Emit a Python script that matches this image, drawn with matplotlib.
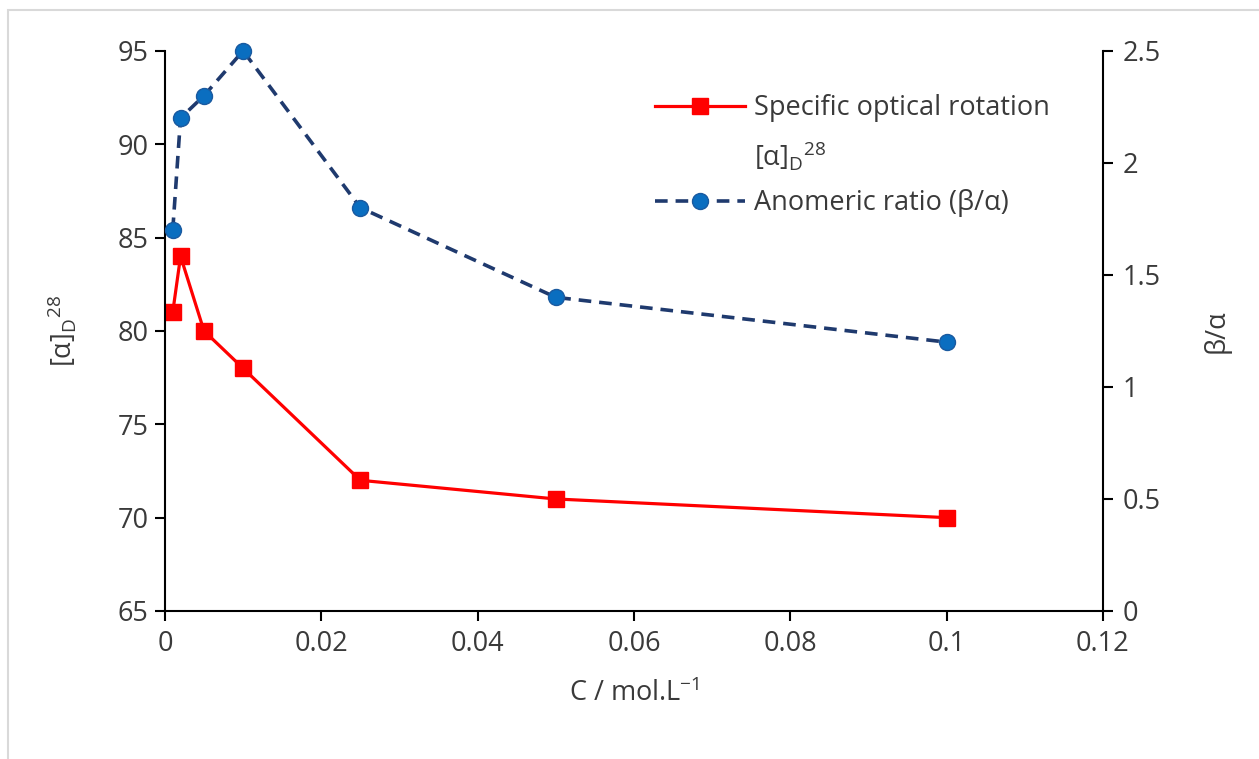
import matplotlib
matplotlib.use("Agg")
import matplotlib.pyplot as plt
from matplotlib.patches import Rectangle
from matplotlib.lines import Line2D

plt.rcParams['font.family'] = ['Open Sans', 'DejaVu Sans']
plt.rcParams['mathtext.fontset'] = 'custom'
plt.rcParams['mathtext.rm'] = 'Open Sans'
plt.rcParams['mathtext.it'] = 'Open Sans'

conc = [0.001, 0.002, 0.005, 0.01, 0.025, 0.05, 0.1]
rotation = [81, 84, 80, 78, 72, 71, 70]
ratio = [1.7, 2.2, 2.3, 2.5, 1.8, 1.4, 1.2]
x_ticks = [0, 0.02, 0.04, 0.06, 0.08, 0.1, 0.12]
x_ticklabels = ["0", "0.02", "0.04", "0.06", "0.08", "0.1", "0.12"]
left_ticks = [65, 70, 75, 80, 85, 90, 95]
right_ticks = [0, 0.5, 1, 1.5, 2, 2.5]
right_ticklabels = ["0", "0.5", "1", "1.5", "2", "2.5"]

FS = 19.5

fig = plt.figure(figsize=(12.59, 7.59), dpi=100)
ax = fig.add_axes([0.131, 0.195, 0.745, 0.738])
ax2 = ax.twinx()

fig.patches.append(Rectangle((0.006, -0.01), 1.0, 0.997, transform=fig.transFigure,
                             fill=False, edgecolor='#d9d9d9', linewidth=1.5))

l1, = ax.plot(conc, rotation, color='#ff0000', lw=2.3, marker='s', markersize=12,
              markerfacecolor='#ff0000', markeredgecolor='#ff0000', clip_on=False,
              label='Specific optical rotation')
l2, = ax2.plot(conc, ratio, color='#1f3a6e', lw=2.6, linestyle=(0, (3.5, 2.2)),
               marker='o', markersize=11.5, markerfacecolor='#0a6ec0',
               markeredgecolor='#1a5aa0', markeredgewidth=1, clip_on=False,
               label='Anomeric ratio (β/α)')
cont = Line2D([], [], color='none', label='$[\\alpha]_{\\mathrm{D}}{}^{28}$')

ax.set_xlim(0, 0.12)
ax.set_ylim(65, 95)
ax2.set_ylim(0, 2.5)
ax.set_xticks(x_ticks)
ax.set_xticklabels(x_ticklabels)
ax.set_yticks(left_ticks)
ax2.set_yticks(right_ticks)
ax2.set_yticklabels(right_ticklabels)

for a in (ax, ax2):
    for s in a.spines.values():
        s.set_visible(False)
ax.spines['left'].set_visible(True)
ax.spines['bottom'].set_visible(True)
ax2.spines['right'].set_visible(True)
for s in (ax.spines['left'], ax.spines['bottom'], ax2.spines['right']):
    s.set_linewidth(1.5)
    s.set_color('black')

ax.tick_params(axis='both', direction='out', length=7, width=1.5, labelsize=FS,
               colors='black', labelcolor='#3a3a3a', pad=5)
ax.tick_params(axis='x', pad=7)
ax2.tick_params(axis='y', direction='out', length=7, width=1.5, labelsize=FS,
                colors='black', labelcolor='#3a3a3a', pad=7)

ax.set_xlabel('C / mol.L$^{-1}$', fontsize=FS, color='#3a3a3a', labelpad=15)
ax.set_ylabel('$[\\alpha]_{\\mathrm{D}}{}^{28}$', fontsize=FS, color='#3a3a3a', labelpad=28)
ax2.set_ylabel('β/α', fontsize=FS, color='#3a3a3a', labelpad=30)

leg = fig.legend(handles=[l1, cont, l2], loc='upper left', bbox_to_anchor=(0.501, 0.908),
                 frameon=False, fontsize=FS, handlelength=3.3, labelspacing=0.63,
                 handletextpad=0.35, labelcolor='#3a3a3a')

fig.savefig('out.png', dpi=100)
